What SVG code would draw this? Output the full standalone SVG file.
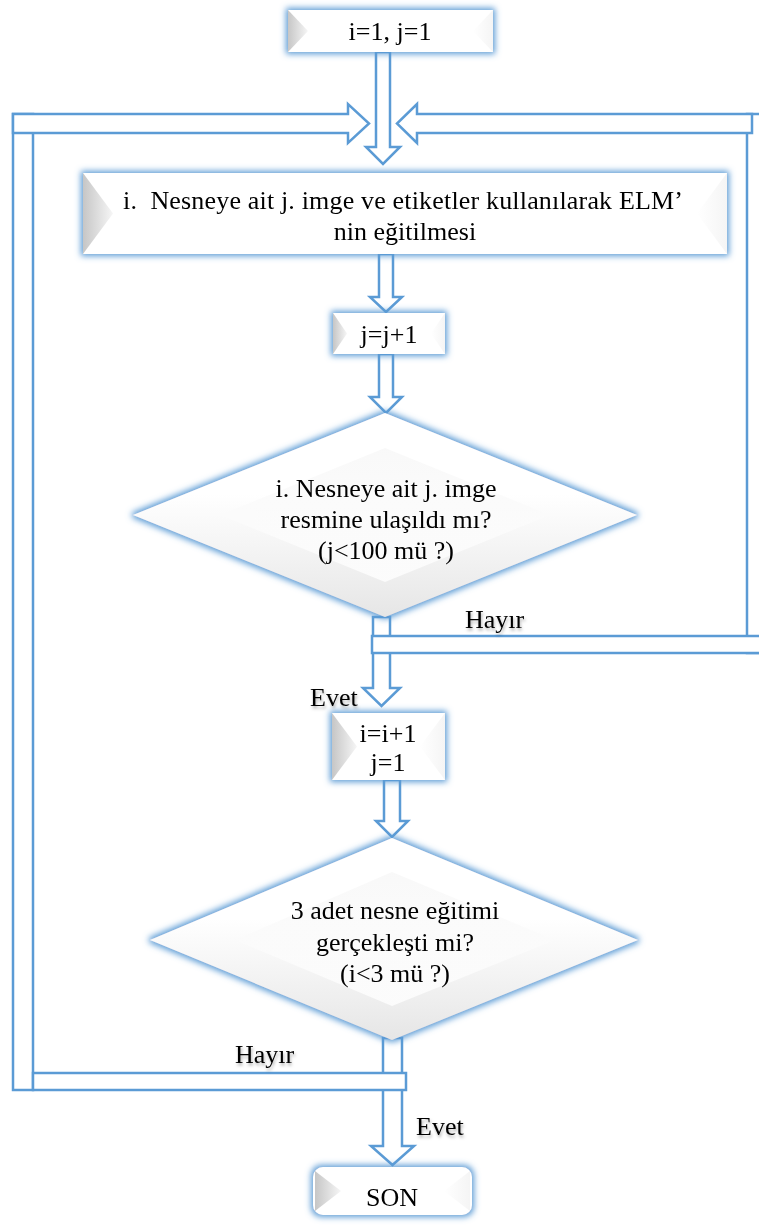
<svg xmlns="http://www.w3.org/2000/svg" width="759" height="1230" viewBox="0 0 759 1230">
  <defs>
    <style>
      .nt{font-family:"Liberation Serif",serif;font-size:26px;fill:#000;text-anchor:middle;filter:url(#crisp)}
      .lbl{font-family:"Liberation Serif",serif;font-size:26px;fill:#000;filter:url(#tshadow)}
      .conn{fill:#fff;stroke:#5B9BD5;stroke-width:2.5;stroke-linejoin:miter}
      .box{fill:#fff;filter:url(#glow)}
      .dia{fill:url(#diaFill);filter:url(#glow)}
      .diaIn{fill:url(#diaInner)}
      .bevL{fill:url(#bevelL)}
      .bevR{fill:url(#bevelR)}
    </style>
    <linearGradient id="bevelL" x1="0" y1="0" x2="1" y2="0">
      <stop offset="0" stop-color="#c6c6c6"/>
      <stop offset="1" stop-color="#f6f6f6"/>
    </linearGradient>
    <linearGradient id="bevelR" x1="0" y1="0" x2="1" y2="0">
      <stop offset="0" stop-color="#ffffff"/>
      <stop offset="1" stop-color="#eeeeee"/>
    </linearGradient>
    <linearGradient id="diaFill" x1="0" y1="0" x2="0" y2="1">
      <stop offset="0.4" stop-color="#ffffff"/>
      <stop offset="1" stop-color="#e6e6e6"/>
    </linearGradient>
    <linearGradient id="diaInner" x1="0" y1="0" x2="0" y2="1">
      <stop offset="0" stop-color="#f7f7f7"/>
      <stop offset="1" stop-color="#ffffff"/>
    </linearGradient>
    <filter id="glow" x="-15%" y="-40%" width="130%" height="180%">
      <feMorphology in="SourceAlpha" operator="dilate" radius="2" result="d"/>
      <feGaussianBlur in="d" stdDeviation="3" result="b"/>
      <feFlood flood-color="#5B9BD5" flood-opacity="1"/>
      <feComposite in2="b" operator="in" result="g"/>
      <feMerge><feMergeNode in="g"/><feMergeNode in="SourceGraphic"/></feMerge>
    </filter>
    <filter id="crisp"><feOffset dx="0" dy="0"/></filter>
    <filter id="tshadow" x="-20%" y="-40%" width="140%" height="180%">
      <feDropShadow dx="1" dy="2.5" stdDeviation="1.5" flood-color="#000" flood-opacity="0.3"/>
    </filter>
  </defs>

  <rect width="759" height="1230" fill="#fff"/>

  <!-- hollow block connectors -->
  <g id="connectors">
    <!-- start -> training -->
    <path class="conn" d="M376,52 V147 H366 L383,164 L400,147 H390 V52 Z"/>
    <!-- training -> j=j+1 -->
    <path class="conn" d="M379,254 V297 H370 L386,312 L402,297 H393 V254 Z"/>
    <!-- j=j+1 -> decision 1 -->
    <path class="conn" d="M379,354 V397 H370 L386,413 L402,397 H393 V354 Z"/>
    <!-- decision 1 -> i=i+1 (Evet) -->
    <path class="conn" d="M373,617 V688 H363 L381.5,706 L400,688 H390 V617 Z"/>
    <!-- decision 1 Hayır loop on the right -->
    <rect class="conn" x="747" y="114" width="20" height="539"/>
    <path class="conn" d="M752,114 H417 V104 L397,123.5 L417,143 V133 H752 Z"/>
    <rect class="conn" x="372" y="636" width="400" height="17"/>
    <!-- i=i+1 -> decision 2 -->
    <path class="conn" d="M384,780 V821 H376 L392,837 L408,821 H400 V780 Z"/>
    <!-- decision 2 -> SON (Evet) -->
    <path class="conn" d="M383,1038 V1146 H371 L392.5,1165 L414,1146 H402 V1038 Z"/>
    <!-- decision 2 Hayır loop on the left -->
    <rect class="conn" x="13" y="114" width="20" height="976"/>
    <path class="conn" d="M13,114 H348 V104 L369,123.5 L348,143 V133 H13 Z"/>
    <rect class="conn" x="33" y="1073" width="373" height="17"/>
  </g>

  <g id="start">
    <rect class="box" x="288" y="10" width="205" height="42"/>
    <polygon class="bevL" points="288,10 308,31 288,52"/>
    <polygon class="bevR" points="493,10 473,31 493,52" opacity="0.6"/>
    <text class="nt" x="390" y="40">i=1, j=1</text>
  </g>

  <g id="train">
    <rect class="box" x="83" y="173" width="644" height="81"/>
    <polygon class="bevL" points="83,173 113,213.5 83,254"/>
    <polygon class="bevR" points="727,173 697,213.5 727,254" opacity="0.6"/>
    <text class="nt" x="403" y="209" textLength="560" lengthAdjust="spacing" xml:space="preserve">i.  Nesneye ait j. imge ve etiketler kullanılarak ELM’</text>
    <text class="nt" x="405" y="240">nin eğitilmesi</text>
  </g>

  <g id="incj">
    <rect class="box" x="333" y="313" width="112" height="41"/>
    <polygon class="bevL" points="333,313 347,333.5 333,354"/>
    <polygon class="bevR" points="445,313 431,333.5 445,354" opacity="0.6"/>
    <text class="nt" x="389" y="343">j=j+1</text>
  </g>

  <g id="decision1">
    <polygon class="dia" points="385,413 637,515 385,617 133,515"/>
    <polygon class="diaIn" points="385,448 550,515 385,582 220,515" opacity="0.8"/>
    <text class="nt" x="386" y="497">i. Nesneye ait j. imge</text>
    <text class="nt" x="386" y="528">resmine ulaşıldı mı?</text>
    <text class="nt" x="386" y="559">(j&lt;100 mü ?)</text>
  </g>

  <g id="inci">
    <rect class="box" x="332" y="713" width="113" height="67"/>
    <polygon class="bevL" points="332,713 357,746.5 332,780"/>
    <polygon class="bevR" points="445,713 420,746.5 445,780" opacity="0.6"/>
    <text class="nt" x="388" y="742">i=i+1</text>
    <text class="nt" x="388" y="771">j=1</text>
  </g>

  <g id="decision2">
    <polygon class="dia" points="392,838 638,940 392,1040 150,940"/>
    <polygon class="diaIn" points="392,872 555,940 392,1006 235,940" opacity="0.8"/>
    <text class="nt" x="395" y="919">3 adet nesne eğitimi</text>
    <text class="nt" x="395" y="951">gerçekleşti mi?</text>
    <text class="nt" x="395" y="982">(i&lt;3 mü ?)</text>
  </g>

  <g id="end">
    <rect class="box" x="313" y="1167" width="159" height="48" rx="10"/>
    <polygon class="bevL" points="315,1171 341,1191 315,1211"/>
    <polygon class="bevR" points="470,1171 444,1191 470,1211" opacity="0.6"/>
    <text class="nt" x="392" y="1206">SON</text>
  </g>

  <g id="labels">
    <text class="lbl" x="465" y="628">Hayır</text>
    <text class="lbl" x="310" y="706">Evet</text>
    <text class="lbl" x="235" y="1063">Hayır</text>
    <text class="lbl" x="416" y="1135">Evet</text>
  </g>
</svg>
